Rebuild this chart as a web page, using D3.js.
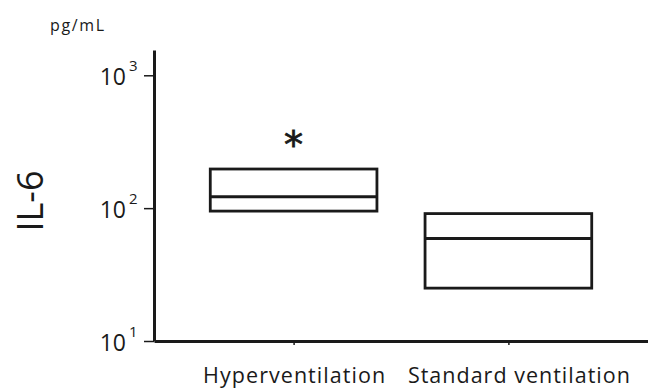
<!DOCTYPE html>
<html>
<head>
<meta charset="utf-8">
<script src="https://cdn.jsdelivr.net/npm/d3@7"></script>
<style>
  body { margin: 0; background: #fff; }
  svg { display: block; font-family: 'Open Sans', sans-serif; }
</style>
</head>
<body>
<div id="chart"></div>
<script>
// box values (pg/mL)
const groups = ['Hyperventilation', 'Standard ventilation'];
const q1 = [95, 25];
const medians = [122, 59];
const q3 = [197, 91];
const significant = [true, false];
const yTicks = [10, 100, 1000];
const yTickExp = ['1', '2', '3'];

const width = 648, height = 389;
const axisX = 154, axisY = 341, topY = 50;
const ink = '#1a1a1a';

const svg = d3.select('#chart').append('svg')
  .attr('width', width)
  .attr('height', height);

const y = d3.scaleLog()
  .domain([10, 1550])
  .range([axisY, topY]);

const x = d3.scalePoint()
  .domain(groups)
  .range([axisX, width])
  .padding(0.65);

const boxW = x.step() * 0.776;

// y axis
const yAxis = svg.append('g')
  .attr('transform', `translate(${axisX},0)`)
  .call(d3.axisLeft(y).tickValues(yTicks).tickSize(10).tickSizeOuter(0).tickFormat(''));
yAxis.select('.domain').attr('stroke', ink).attr('stroke-width', 3);
yAxis.selectAll('.tick line').attr('stroke', ink).attr('stroke-width', 1.5);

const labels = yAxis.selectAll('.tick');
labels.append('text')
  .attr('x', -28).attr('y', 9)
  .attr('dy', 0)
  .attr('text-anchor', 'end')
  .attr('fill', ink)
  .style('font-family', "'Open Sans', sans-serif")
  .style('font-size', '23px')
  .text('10');
labels.append('text')
  .attr('x', -25).attr('y', -5)
  .attr('dy', 0)
  .attr('text-anchor', 'start')
  .attr('fill', ink)
  .style('font-family', "'Open Sans', sans-serif")
  .style('font-size', '15px')
  .text((d, i) => yTickExp[i]);

// x axis
const xAxis = svg.append('g')
  .attr('transform', `translate(0,${axisY})`)
  .call(d3.axisBottom(x).tickSize(4).tickSizeOuter(0));
xAxis.select('.domain').attr('stroke', ink).attr('stroke-width', 3);
xAxis.selectAll('.tick line').attr('stroke', ink).attr('stroke-width', 1.5);
xAxis.selectAll('.tick text')
  .attr('y', 42).attr('dy', 0)
  .attr('dx', (d, i) => i === 1 ? 10 : 0)
  .attr('fill', ink)
  .style('font-family', "'Open Sans', sans-serif")
  .style('font-size', '21.5px')
  .attr('textLength', (d, i) => i === 0 ? 182 : 222)
  .attr('lengthAdjust', 'spacing');

// boxes
const boxes = svg.append('g').selectAll('g')
  .data(groups)
  .join('g');

boxes.append('rect')
  .attr('x', d => x(d) - boxW / 2)
  .attr('y', (d, i) => y(q3[i]))
  .attr('width', boxW)
  .attr('height', (d, i) => y(q1[i]) - y(q3[i]))
  .attr('fill', 'none')
  .attr('stroke', ink)
  .attr('stroke-width', 2.8);

boxes.append('line')
  .attr('x1', d => x(d) - boxW / 2)
  .attr('x2', d => x(d) + boxW / 2)
  .attr('y1', (d, i) => y(medians[i]))
  .attr('y2', (d, i) => y(medians[i]))
  .attr('stroke', ink)
  .attr('stroke-width', 3);

boxes.filter((d, i) => significant[i])
  .append('text')
  .attr('x', d => x(d))
  .attr('y', (d, i) => y(q3[i]) - 11)
  .attr('text-anchor', 'middle')
  .attr('fill', ink)
  .style('font-family', "'DejaVu Sans', sans-serif")
  .style('font-size', '38px')
  .style('stroke', ink)
  .style('stroke-width', 0.8)
  .text('*');

// axis titles
svg.append('text')
  .attr('x', 50).attr('y', 31)
  .attr('fill', ink)
  .style('font-size', '16px')
  .attr('textLength', 54)
  .attr('lengthAdjust', 'spacing')
  .text('pg/mL');

svg.append('text')
  .attr('transform', 'translate(43,201) rotate(-90)')
  .attr('text-anchor', 'middle')
  .attr('fill', ink)
  .style('font-size', '36px')
  .text('IL-6');
</script>
</body>
</html>
